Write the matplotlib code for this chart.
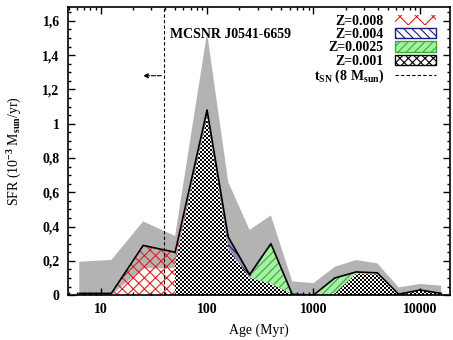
import numpy as np
import matplotlib
matplotlib.use("Agg")
import matplotlib.pyplot as plt
from matplotlib.patches import Patch
from matplotlib.lines import Line2D
from matplotlib.ticker import FixedLocator, MultipleLocator, LogLocator, NullFormatter

plt.rcParams['font.family'] = ['Liberation Serif', 'DejaVu Serif']
plt.rcParams['font.weight'] = 'bold'
plt.rcParams['mathtext.fontset'] = 'custom'
plt.rcParams['mathtext.rm'] = 'Liberation Serif:bold'
plt.rcParams['mathtext.it'] = 'Liberation Serif:bold'
plt.rcParams['mathtext.bf'] = 'Liberation Serif:bold'
plt.rcParams['hatch.linewidth'] = 0.8

# ---- data ----
ages = [6.3, 12.6, 25.1, 50.1, 100, 158, 251, 398, 631, 1000, 1585, 2512, 3981, 6310, 10000, 15849]
sfr_upper = [0.195, 0.205, 0.43, 0.345, 1.53, 0.66, 0.38, 0.465, 0.08, 0.07, 0.165, 0.205, 0.185, 0.045, 0.065, 0.055]
sfr_lower = [0.0, 0.0, 0.157, 0.157, 0.0, 0.0, 0.0, 0.0, 0.0, 0.0, 0.0, 0.0, 0.0, 0.0, 0.0, 0.0]
z001 = [np.nan, np.nan, np.nan, 0.185, 1.04, 0.27, 0.10, 0.065, 0.005, 0.0, 0.01, 0.125, 0.12, 0.0, 0.028, 0.008]
z0025 = [0, 0, 0, 0, 0, 0, 0, 0.235, 0, 0, 0.085, 0.01, 0.01, 0, 0, 0]
z004 = [0, 0, 0, 0, 0.02, 0.07, 0.02, 0, 0, 0, 0.005, 0, 0, 0.005, 0.002, 0.002]
z008 = [0.01, 0.01, 0.29, 0.065, 0.02, 0, 0, 0, 0, 0, 0, 0, 0, 0, 0, 0]
t_sn = 39.5
yticks = [0, 0.2, 0.4, 0.6, 0.8, 1.0, 1.2, 1.4, 1.6]
ytick_labels = ["0", "0,2", "0,4", "0,6", "0,8", "1", "1,2", "1,4", "1,6"]
xticks = [10, 100, 1000, 10000]
xtick_labels = ["10", "100", "1000", "10000"]
labels = ["Z=0.008", "Z=0.004", "Z=0.0025", "Z=0.001", r"t$_{\rm SN}$ (8 M$_{\rm sun}$)"]

x = np.array(ages, dtype=float)
a001 = np.array(z001, dtype=float)
mask001 = ~np.isnan(a001)
a001 = np.nan_to_num(a001)
c1 = a001
c2 = c1 + np.array(z0025)
c3 = c2 + np.array(z004)
c4 = c3 + np.array(z008)

fig = plt.figure(figsize=(4.53, 3.40), dpi=100)
ax = fig.add_axes([0.150, 0.132, 0.843, 0.847])
ax.set_xscale('log')
ax.set_xlim(4.93, 19100)
ax.set_ylim(0, 1.68)

ax.fill_between(x, sfr_lower, sfr_upper, facecolor='#b3b3b3', edgecolor='none', zorder=1)
ax.fill_between(x, 0, c4, facecolor='none', edgecolor='#e02020', hatch='xxx', linewidth=0, zorder=2)
ax.fill_between(x, 0, c3, where=mask001, facecolor='#8c8ca8', edgecolor='#1a1a80',
                hatch='\\\\\\\\', linewidth=0, zorder=3)
ax.fill_between(x, 0, c2, where=mask001, facecolor='#a8eea8', edgecolor='#30b030',
                hatch='////', linewidth=0, zorder=4)
poly = ax.fill_between(x, 0, c1, where=mask001, facecolor='white', edgecolor='none', zorder=5)

# checkerboard texture for Z=0.001
h, w = 144, 191
ii, jj = np.indices((h, w))
checker = ((ii + jj) % 2).astype(float)
im = ax.imshow(checker, cmap='gray', extent=[0, 1, 0, 1], transform=ax.transAxes,
               aspect='auto', interpolation='nearest', zorder=6)
im.set_clip_path(poly.get_paths()[0], poly.get_transform())

ax.plot(x, c4, color='black', lw=1.2, zorder=7)

ax.axvline(t_sn, color='black', ls='--', lw=0.8, dashes=(3, 2), zorder=8)
ax.annotate('', xy=(23.5, 1.28), xytext=(t_sn, 1.28),
            arrowprops=dict(arrowstyle='-|>', color='black', lw=0.8, ls='--',
                            mutation_scale=7), zorder=8)
ax.text(44.8, 1.52, 'MCSNR J0541-6659', fontsize=10, ha='left', va='center', zorder=9)

ax.xaxis.set_major_locator(FixedLocator(xticks))
ax.set_xticklabels(xtick_labels)
ax.xaxis.set_minor_locator(LogLocator(base=10, subs=np.arange(2, 10)))
ax.xaxis.set_minor_formatter(NullFormatter())
ax.yaxis.set_major_locator(FixedLocator(yticks))
ax.set_yticklabels(ytick_labels)
ax.yaxis.set_minor_locator(MultipleLocator(0.05))
ax.tick_params(which='both', direction='in', top=True, right=True, labelsize=10, width=1)
ax.tick_params(which='major', length=5, pad=6)
ax.tick_params(which='minor', length=2.5)
for s in ax.spines.values():
    s.set_linewidth(1.2)
    s.set_zorder(10)

ax.set_xlabel('Age (Myr)', fontsize=10, labelpad=5)
ax.set_ylabel(r'SFR (10$^{-3}$ M$_{\rm sun}$/yr)', fontsize=10, labelpad=13)

handles = [
    Patch(facecolor='none', edgecolor='#e02020', hatch='xx', linewidth=0),
    Patch(facecolor='white', edgecolor='#1a1a80', hatch='\\\\\\\\', linewidth=1),
    Patch(facecolor='#a8eea8', edgecolor='#30b030', hatch='////', linewidth=1),
    Patch(facecolor='white', edgecolor='black', hatch='xxxx', linewidth=1),
    Line2D([0], [0], color='black', ls='--', lw=0.8, dashes=(3, 2)),
]
leg = ax.legend(handles, labels, loc='upper right', bbox_to_anchor=(0.985, 1.0),
                frameon=False, markerfirst=False, fontsize=10, handlelength=3.0,
                handleheight=0.75, labelspacing=0.02, handletextpad=0.8, borderaxespad=0.15)
leg.set_zorder(11)

fig.savefig('out.png', dpi=100)
